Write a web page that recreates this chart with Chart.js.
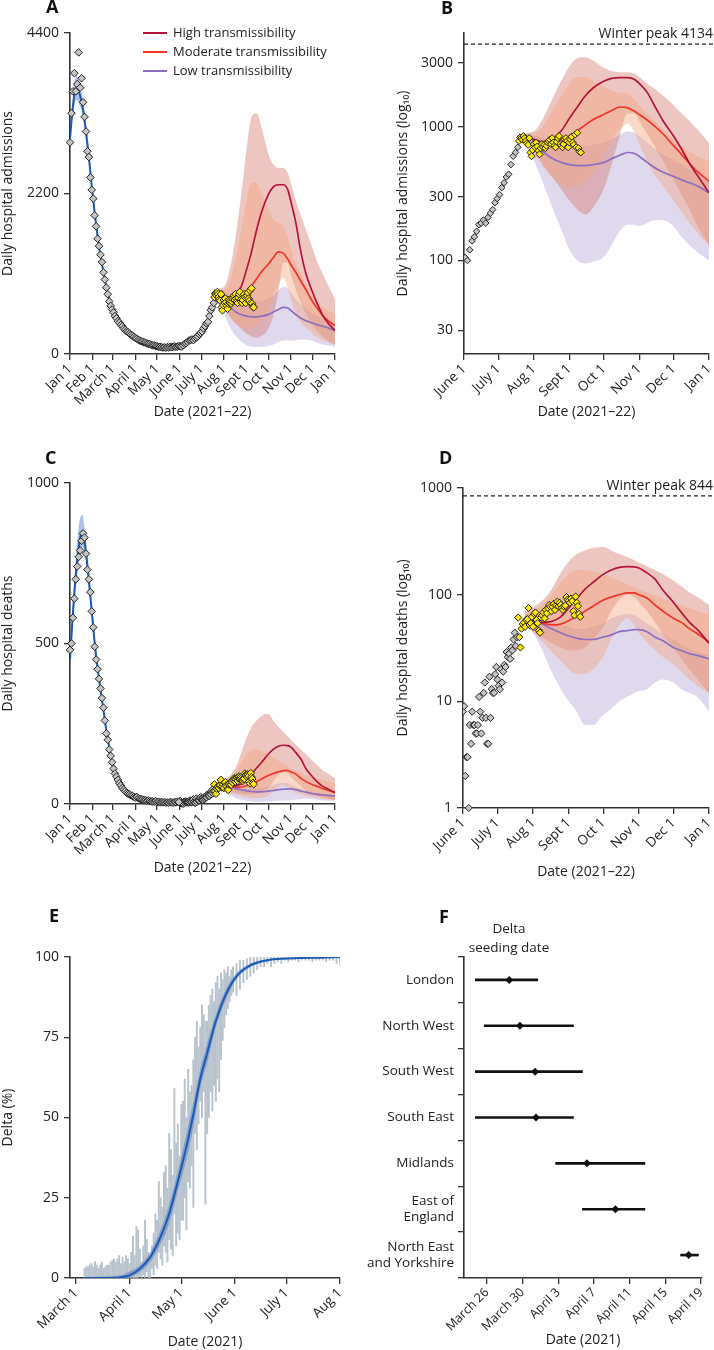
<!DOCTYPE html>
<html><head><meta charset="utf-8">
<script src="https://cdn.jsdelivr.net/npm/chart.js@4.4.1/dist/chart.umd.min.js"></script>
<style>
body{margin:0;background:#fff;width:714px;height:1350px;position:relative;overflow:hidden;font-family:'Open Sans',sans-serif;color:#222;}
canvas{position:absolute;}
.pl{position:absolute;font-weight:bold;font-size:18px;line-height:18px;color:#111;}
.leg{position:absolute;font-size:13px;line-height:19px;color:#222;white-space:nowrap;}
.sw{display:inline-block;width:24px;height:2px;vertical-align:middle;margin-right:6px;position:relative;top:-1px;}
.hdr{position:absolute;font-size:13.5px;line-height:19px;text-align:center;color:#222;}
</style></head>
<body>
<canvas id="cA" width="357" height="440" style="left:0;top:0"></canvas>
<canvas id="cB" width="357" height="440" style="left:357px;top:0"></canvas>
<canvas id="cC" width="357" height="440" style="left:0;top:440px"></canvas>
<canvas id="cD" width="357" height="440" style="left:357px;top:440px"></canvas>
<canvas id="cE" width="357" height="470" style="left:0;top:880px"></canvas>
<canvas id="cF" width="357" height="470" style="left:357px;top:880px"></canvas>
<div class="pl" style="left:46px;top:-3px">A</div>
<div class="pl" style="left:441px;top:-2px">B</div>
<div class="pl" style="left:45px;top:448px">C</div>
<div class="pl" style="left:439px;top:448px">D</div>
<div class="pl" style="left:49px;top:906px">E</div>
<div class="pl" style="left:439px;top:907px">F</div>
<div class="leg" style="left:143px;top:23px">
<div><span class="sw" style="background:#b3143c"></span>High transmissibility</div>
<div><span class="sw" style="background:#f0352b"></span>Moderate transmissibility</div>
<div><span class="sw" style="background:#8c6fc0"></span>Low transmissibility</div>
</div>
<div class="hdr" style="left:459px;top:919px;width:100px">Delta<br>seeding date</div>
<script>
// ---------- DATA (day numbers = days since 1 Jan 2021) ----------
const monthDays = [0,31,59,90,120,151,181,212,243,273,304,334,365];
const monthLabels = ['Jan 1','Feb 1','March 1','April 1','May 1','June 1','July 1','Aug 1','Sept 1','Oct 1','Nov 1','Dec 1','Jan 1'];
const lateDays = [151,181,212,243,273,304,334,365];
const lateLabels = ['June 1','July 1','Aug 1','Sept 1','Oct 1','Nov 1','Dec 1','Jan 1'];
const eTickDays = [59,90,120,151,181,212];
const eTickLabels = ['March 1','April 1','May 1','June 1','July 1','Aug 1'];
const fTickDays = [84,88,92,96,100,104,108];
const fTickLabels = ['March 26','March 30','April 3','April 7','April 11','April 15','April 19'];

// admissions: observed (grey, every 2 days from day 0)
const admObsStart = 0, admObsStep = 2;
const admObs = [2900,3300,3600,3850,3600,3700,4134,3650,3780,3450,3250,3050,2780,2700,2420,2250,2130,1900,1750,1580,
 1480,1360,1260,1120,1020,910,820,720,660,610,570,520,490,450,430,400,380,350,330,310,
 300,280,265,250,235,220,210,195,185,175,170,160,155,145,140,135,125,120,118,110,
 105,100,98,92,88,92,85,95,88,98,92,100,104,98,102,108,105,100,120,140,
 150,165,185,190,200,190,210,225,240,270,290,310,350,380,420,440,520,600,640,700];
// admissions: recent observed (yellow, daily from day 199)
const admRecentStart = 199;
const admRecent = [780,830,820,800,850,820,780,750,730,820,640,600,670,740,700,760,710,660,620,690,
 740,700,730,690,720,760,780,800,740,820,760,720,700,770,820,850,740,720,700,740,
 800,820,780,700,760,800,840,760,730,870,700,900,690,650,640];
// admissions model fit (blue)
const admFitDays = [0,3,6,9,12,15,18,22,26,30,35,40,45,50,55,60,70,80,90,100,110,120,130,140,150,160,170,180,190,200,205,212];
const admFit   = [2950,3300,3550,3650,3600,3500,3350,3050,2700,2300,1850,1480,1180,920,720,580,400,300,222,170,133,106,92,93,103,150,195,290,440,720,820,810];
const admFitUp = [3050,3420,3700,3820,3760,3640,3470,3160,2790,2370,1910,1530,1220,955,750,605,420,315,235,180,142,115,100,102,112,162,210,310,470,770,870,870];
const admFitLo = [2850,3180,3400,3480,3440,3360,3230,2940,2610,2230,1790,1430,1140,885,690,555,380,285,209,160,124,97,84,84,94,138,180,270,410,670,770,750];
// projections
const projDays = [205,212,220,228,236,243,250,257,264,273,280,287,294,300,304,311,318,325,334,341,348,355,365];
const admHigh   = [820,800,770,810,930,1150,1400,1700,1950,2180,2290,2320,2320,2250,2100,1800,1400,1100,850,680,530,430,320];
const admMod    = [820,800,760,760,800,850,930,1030,1130,1230,1320,1400,1380,1300,1230,1120,1000,880,720,620,530,460,390];
const admLow    = [820,790,650,580,540,520,510,510,520,540,575,610,640,630,600,540,490,455,425,400,380,360,320];
const admHighUp = [900,920,1150,1600,2200,2800,3250,3300,3100,2750,2600,2550,2550,2480,2350,2100,1900,1700,1450,1250,1100,950,750];
const admHighLo = [800,680,520,420,340,280,240,220,250,340,520,850,1250,1250,1100,880,700,550,400,310,240,180,130];
const admModUp  = [880,880,1000,1300,1700,2100,2350,2350,2200,2000,1850,1800,1750,1600,1450,1250,1100,950,800,720,650,600,550];
const admModLo  = [780,640,500,420,370,350,360,390,460,600,800,950,1050,900,750,550,430,360,280,230,190,160,130];
const admLowUp  = [850,850,820,800,770,750,730,720,730,760,800,870,920,900,850,760,680,620,560,520,480,450,380];
const admLowLo  = [780,560,380,250,170,120,100,95,98,106,130,165,185,185,180,190,200,200,180,150,130,115,100];
const admWinterPeak = 4134;

// deaths: observed grey (every 2 days from day 0 to 150, then daily from 151)
const deathObsStart = 0, deathObsStep = 2;
const deathObs = [480,500,580,640,700,740,770,790,820,843,830,780,730,700,660,600,550,490,450,420,
 390,360,330,300,260,220,200,170,150,130,110,95,85,75,65,58,50,45,40,35,
 32,30,27,25,22,20,22,18,16,15,14,12,12,10,11,9,8,8,7,9,
 6,7,5,6,5,6,4,5,4,6,5,4,6,5,7,6];
const deathLateStart = 151;
const deathLate = [8,9,2,3,3,1,6,4,8,6,6,5,5,6,11,8,5,7,12,15,7,4,4,17,7,13,12,12,18,21,16,14,13,20,15,19,22,21,29,26,28,25,32,30,38,44,33,40];
const deathRecentStart = 199;
const deathRecent = [61,40,32,48,53,55,50,58,59,75,52,54,62,50,66,68,58,54,46,44,61,64,68,60,72,67,75,80,77,70,
 77,82,72,80,86,78,84,80,75,72,77,79,95,90,88,84,92,87,70,64,96,84,78,66,62];
const deathFitDays = [0,3,6,10,14,17,20,25,30,35,40,45,50,55,60,65,70,75,80,90,100,110,120,130,140,150,160,170,180,190,200,205,212];
const deathFit   = [450,560,660,760,830,850,820,720,600,480,390,310,230,165,115,82,58,44,34,22,14,9,6,5,5,5,8,13,20,30,45,55,58];
const deathFitUp = [470,590,700,820,890,900,860,750,625,500,405,322,240,172,120,86,61,46,36,24,16,10,7,6,6,6,9,14,22,33,50,60,63];
const deathFitLo = [430,530,625,710,780,800,785,690,575,460,375,298,220,158,110,78,55,42,32,20,12,8,5,4,4,4,7,12,18,27,40,50,53];
const deathHigh   = [58,57,55,56,62,75,92,112,130,155,170,180,183,182,178,160,140,110,85,68,55,47,35];
const deathMod    = [58,56,54,52,53,57,63,70,78,89,95,100,104,104,100,93,80,70,60,55,48,43,36];
const deathLow    = [58,57,53,48,44,41,39,38,38,40,42,45,46,47,47,45,40,37,32,30,28,27,25];
const deathHighUp = [70,76,88,112,160,205,240,260,275,280,260,240,225,210,200,185,170,155,135,120,105,95,80];
const deathHighLo = [52,46,40,35,32,30,30,32,38,50,70,90,100,95,85,70,55,42,32,25,20,16,12];
const deathModUp  = [66,72,80,100,130,155,170,170,165,155,145,135,125,118,112,105,98,92,85,80,75,70,65];
const deathModLo  = [52,44,36,29,24,20,18,18,20,26,38,52,60,52,44,36,30,26,22,19,16,14,12];
const deathLowUp  = [66,64,60,56,52,50,48,48,50,54,60,64,66,64,60,54,48,43,38,34,31,29,27];
const deathLowLo  = [50,44,30,19,13,10,8,6,6,7.5,8.5,10,11,12,12.5,13,15,16,15,13,12,11,8];
const deathWinterPeak = 844;

// Delta share (%): sample error bars, daily from day 64, then every 2 days from 152
const eBarStart = 64;
const eBarHi = [3,3.5,3.5,4,4.5,3.5,5,4,3,4,5,3,3.5,4,4,5,5.5,6,5,6,7,4.5,6.5,5,7,6,4.5,
 8,13,7,16,15,9,5,10,18,12,8,6,10,14,20,
 18,30,25,22,33,35,28,45,40,32,59,42,48,38,54,
 55,62,50,65,58,60,68,75,80,72,78,85,82,80,80,
 85,88,90,86,92,94,90,95,93,96,95,97,94,96,97];
const eBarLo = [0,0,0,0,0,0,0,0,0,0,0,0,0,0,0,0,0,0,0,0,0,0,0,0,0,0,0,
 0,0,0,0,0,0.5,0,1,0,2,0,0,3,1,4,
 3,8,6,4,10,8,5,12,9,7,20,10,14,12,18,
 18,25,15,30,28,35,22,45,40,48,55,50,58,23,45,
 50,58,52,60,55,62,58,68,74,78,82,84,86,88,89];
const eBar2Start = 152, eBar2Step = 2;
const eBar2Hi = [98,99,99,99.5,100,100,100,100,100,100,100,100,100,100,100,100,100,100,100,100,100,100,100,100,100,100,100,100,100,100,100];
const eBar2Lo = [88,90,92,93,94,95,96,97,97,98,97,98,98.5,98,99,98.5,99,99,98.5,99,99,99,98.5,99,99,99,98.5,99,99,98,97.5];
const eFitDays = [64,70,80,86,90,96,102,108,113,117,123,127,131,135,140,146,152,160,170,180,190,200,212];
const eFit   = [0,0,0,0.3,0.8,2.9,6.5,12.8,20,28,41,51,62,70,80,88.5,94,97.4,99,99.5,99.7,99.8,100];
const eFitUp = [0.3,0.4,0.6,1,2,4,8,15,23,31,45,55,65,73,82,90,95,98,99.3,99.7,99.85,99.9,100];
const eFitLo = [0,0,0,0,0.2,1.8,5,10.5,17,25,37,47,59,67,78,87,93,96.8,98.7,99.3,99.55,99.7,99.9];

// Delta seeding date by region (day numbers)
const fRegions = ['London','North West','South West','South East','Midlands',['East of','England'],['North East','and Yorkshire']];
const fMid = [86.5,87.7,89.4,89.5,95.2,98.4,106.6];
const fLo  = [82.7,83.7,82.7,82.7,91.7,94.7,105.7];
const fHi  = [89.7,93.7,94.7,93.7,101.7,101.7,107.7];

// ---------- HELPERS ----------
Chart.defaults.font.family = "'Open Sans', sans-serif";
Chart.defaults.font.size = 14;
Chart.defaults.color = '#222';
Chart.defaults.animation = false;
Chart.defaults.responsive = false;
Chart.defaults.devicePixelRatio = 1;
Chart.defaults.events = [];
Chart.defaults.plugins.legend.display = false;
Chart.defaults.plugins.tooltip.enabled = false;

const C_HIGH = '#b3143c', C_MOD = '#f0352b', C_LOW = '#8c6fc0', C_BLUE = '#1a5cb5';
const B_HIGH = 'rgba(214,118,108,0.42)', B_MOD = 'rgba(244,165,125,0.42)', B_LOW = 'rgba(190,176,220,0.48)', B_BLUE = 'rgba(60,100,190,0.4)';

const seqDays = (start, step, n) => Array.from({length: n}, (_, i) => start + i * step);
const pts = (days, vals) => vals.map((v, i) => ({x: days[i], y: v}));
const fixedY = w => s => { s.width = w; s.paddingTop = 0; s.paddingBottom = 0; };
const fixedX = h => s => { s.height = h; s.paddingLeft = 0; s.paddingRight = 0; };
const gridStyle = {display: true, drawOnChartArea: false, drawTicks: true, tickLength: 6, color: '#333', lineWidth: 1.3};
const borderStyle = {display: true, color: '#333', width: 1.6};

function xAxis(min, max, tDays, tLabels, h, text, padB, tickSize) {
  return {type: 'linear', min, max, offset: false, afterFit: fixedX(h),
    afterBuildTicks: s => { s.ticks = tDays.map(v => ({value: v})); },
    ticks: {autoSkip: false, maxRotation: 45, minRotation: 45, padding: 1, font: {size: tickSize || 13.5}, callback: (v, i) => tLabels[i]},
    grid: Object.assign({}, gridStyle, {offset: false}), border: borderStyle,
    title: {display: true, text, font: {size: 14}, padding: {top: 0, bottom: padB}}};
}
function yAxis(type, min, max, tVals, w, text, padT) {
  return {type, min, max, afterFit: fixedY(w),
    afterBuildTicks: s => { s.ticks = tVals.map(v => ({value: v})); },
    ticks: {padding: 5, font: {size: 14}, callback: v => String(v)},
    grid: gridStyle, border: borderStyle,
    title: {display: true, text, font: {size: 14}, padding: {top: padT, bottom: 0}}};
}
function band(days, up, lo, color, order) {
  return [
    {type: 'line', data: pts(days, up), fill: '+1', backgroundColor: color, borderWidth: 0, pointRadius: 0, cubicInterpolationMode: 'monotone', order},
    {type: 'line', data: pts(days, lo), fill: false, borderWidth: 0, pointRadius: 0, cubicInterpolationMode: 'monotone', order}
  ];
}
function line(days, vals, color, width, order) {
  return {type: 'line', data: pts(days, vals), borderColor: color, borderWidth: width, pointRadius: 0, fill: false, cubicInterpolationMode: 'monotone', order};
}
function dots(days, vals, color, r, order, clipLeft) {
  return {type: 'line', data: pts(days, vals), showLine: false, pointStyle: 'rectRot', pointRadius: r,
    pointBackgroundColor: color, pointBorderColor: '#222', pointBorderWidth: 1, order,
    clip: {left: clipLeft, top: 8, right: 8, bottom: 8}};
}
function peakPlugin(value, text) {
  return {id: 'peak' + value, afterDraw(chart) {
    const y = chart.scales.y.getPixelForValue(value);
    const ctx = chart.ctx;
    ctx.save();
    ctx.strokeStyle = '#222'; ctx.lineWidth = 1.3; ctx.setLineDash([4, 3]);
    ctx.beginPath(); ctx.moveTo(chart.chartArea.left, y); ctx.lineTo(chart.width, y); ctx.stroke();
    ctx.setLineDash([]);
    ctx.fillStyle = '#222'; ctx.font = "14px 'Open Sans', sans-serif"; ctx.textAlign = 'right'; ctx.textBaseline = 'alphabetic';
    ctx.fillText(text, chart.width - 1, y - 6);
    ctx.restore();
  }};
}

const admObsDays = seqDays(admObsStart, admObsStep, admObs.length);
const admRecentDays = seqDays(admRecentStart, 1, admRecent.length);
const deathObsDays = seqDays(deathObsStart, deathObsStep, deathObs.length);
const deathLateDays = seqDays(deathLateStart, 1, deathLate.length);
const deathRecentDays = seqDays(deathRecentStart, 1, deathRecent.length);

function projSets(high, mod, low, hu, hl, mu, ml, lu, ll) {
  return [
    line(projDays, high, C_HIGH, 1.7, 3), line(projDays, mod, C_MOD, 1.7, 3), line(projDays, low, C_LOW, 1.7, 3),
    ...band(projDays, hu, hl, B_HIGH, 7), ...band(projDays, mu, ml, B_MOD, 6), ...band(projDays, lu, ll, B_LOW, 8)
  ];
}

// ---------- A ----------
new Chart(document.getElementById('cA'), {type: 'line',
  data: {datasets: [
    dots(admRecentDays, admRecent, '#ffe600', 3.8, 0, 4),
    dots(admObsDays, admObs, '#c4c4c4', 3.8, 1, 4),
    line(admFitDays, admFit, C_BLUE, 2, 2),
    ...band(admFitDays, admFitUp, admFitLo, B_BLUE, 4),
    ...projSets(admHigh, admMod, admLow, admHighUp, admHighLo, admModUp, admModLo, admLowUp, admLowLo)
  ]},
  options: {layout: {padding: {left: 0, top: 33, right: 22, bottom: 0}},
    scales: {x: xAxis(0, 365, monthDays, monthLabels, 86, 'Date (2021–22)', 20),
             y: yAxis('linear', 0, 4400, [0, 2200, 4400], 70, 'Daily hospital admissions', 0)}}
});

// ---------- B ----------
new Chart(document.getElementById('cB'), {type: 'line',
  data: {datasets: [
    dots(admRecentDays, admRecent, '#ffe600', 3.5, 0, 0),
    dots(admObsDays, admObs, '#c4c4c4', 3.3, 1, 0),
    ...projSets(admHigh, admMod, admLow, admHighUp, admHighLo, admModUp, admModLo, admLowUp, admLowLo)
  ]},
  options: {layout: {padding: {left: 0, top: 33, right: 4, bottom: 0}},
    scales: {x: xAxis(151, 365, lateDays, lateLabels, 86, 'Date (2021–22)', 20),
             y: yAxis('logarithmic', 20, 5000, [30, 100, 300, 1000, 3000], 107, 'Daily hospital admissions (log₁₀)', 38)}},
  plugins: [peakPlugin(admWinterPeak, 'Winter peak ' + admWinterPeak)]
});

// ---------- C ----------
new Chart(document.getElementById('cC'), {type: 'line',
  data: {datasets: [
    dots(deathRecentDays, deathRecent, '#ffe600', 3.8, 0, 4),
    dots(deathObsDays, deathObs, '#c4c4c4', 3.8, 1, 4),
    dots(deathLateDays, deathLate, '#c4c4c4', 3.8, 1, 4),
    line(deathFitDays, deathFit, C_BLUE, 2, 2),
    ...band(deathFitDays, deathFitUp, deathFitLo, B_BLUE, 4),
    ...projSets(deathHigh, deathMod, deathLow, deathHighUp, deathHighLo, deathModUp, deathModLo, deathLowUp, deathLowLo)
  ]},
  options: {layout: {padding: {left: 0, top: 43, right: 22, bottom: 0}},
    scales: {x: xAxis(0, 365, monthDays, monthLabels, 76, 'Date (2021–22)', 4),
             y: yAxis('linear', 0, 1000, [0, 500, 1000], 70, 'Daily hospital deaths', 0)}}
});

// ---------- D ----------
new Chart(document.getElementById('cD'), {type: 'line',
  data: {datasets: [
    dots(deathRecentDays, deathRecent, '#ffe600', 3.6, 0, 0),
    dots(deathLateDays, deathLate, '#c4c4c4', 3.6, 1, 0),
    ...projSets(deathHigh, deathMod, deathLow, deathHighUp, deathHighLo, deathModUp, deathModLo, deathLowUp, deathLowLo)
  ]},
  options: {layout: {padding: {left: 0, top: 48, right: 5, bottom: 0}},
    scales: {x: xAxis(151, 365, lateDays, lateLabels, 72, 'Date (2021–22)', 0),
             y: yAxis('logarithmic', 1, 1000, [1, 10, 100, 1000], 106, 'Daily hospital deaths (log₁₀)', 38)}},
  plugins: [peakPlugin(deathWinterPeak, 'Winter peak ' + deathWinterPeak)]
});

// ---------- E ----------
const eBarDays = seqDays(eBarStart, 1, eBarHi.length);
const eBar2Days = seqDays(eBar2Start, eBar2Step, eBar2Hi.length);
const eBars = eBarDays.map((d, i) => ({x: d, y: [eBarLo[i], eBarHi[i]]}))
  .concat(eBar2Days.map((d, i) => ({x: d, y: [eBar2Lo[i], eBar2Hi[i]]})));
new Chart(document.getElementById('cE'), {type: 'bar',
  data: {datasets: [
    line(eFitDays, eFit, C_BLUE, 2, 0),
    ...band(eFitDays, eFitUp, eFitLo, B_BLUE, 1),
    {type: 'bar', data: eBars, backgroundColor: '#b9c3cc', barThickness: 1.3, order: 3}
  ]},
  options: {layout: {padding: {left: 0, top: 77, right: 17, bottom: 0}},
    scales: {x: xAxis(55.5, 212, eTickDays, eTickLabels, 72, 'Date (2021)', 0),
             y: yAxis('linear', 0, 100, [0, 25, 50, 75, 100], 70, 'Delta (%)', 0)}}
});

// ---------- F ----------
new Chart(document.getElementById('cF'), {type: 'bar',
  data: {labels: fRegions, datasets: [
    {type: 'line', indexAxis: 'y', data: fMid.map((m, i) => ({x: m, y: i})), showLine: false, pointStyle: 'rectRot', pointRadius: 4,
     pointBackgroundColor: '#111', pointBorderColor: '#111', pointBorderWidth: 0, order: 0},
    {type: 'bar', data: fLo.map((l, i) => [l, fHi[i]]), backgroundColor: '#111', barThickness: 2, order: 1}
  ]},
  options: {indexAxis: 'y', layout: {padding: {left: 0, top: 77, right: 12, bottom: 0}},
    scales: {
      x: xAxis(81.43, 108.1, fTickDays, fTickLabels, 72, 'Date (2021)', 2, 12.5),
      y: {type: 'category', offset: true, afterFit: fixedY(107),
          ticks: {padding: 4, autoSkip: false, font: {size: 13.5}},
          grid: Object.assign({}, gridStyle, {offset: true}), border: borderStyle}
    }}
});
</script>
</body></html>
